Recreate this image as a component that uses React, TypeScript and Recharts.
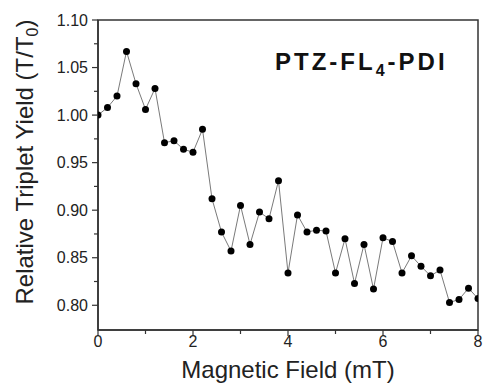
import { LineChart, Line, XAxis, YAxis, ReferenceArea } from "recharts";

// magnetic field (mT), one point every 0.2 mT
const fieldValues = [
  0, 0.2, 0.4, 0.6, 0.8, 1.0, 1.2, 1.4, 1.6, 1.8, 2.0, 2.2, 2.4, 2.6, 2.8, 3.0, 3.2, 3.4, 3.6, 3.8, 4.0,
  4.2, 4.4, 4.6, 4.8, 5.0, 5.2, 5.4, 5.6, 5.8, 6.0, 6.2, 6.4, 6.6, 6.8, 7.0, 7.2, 7.4, 7.6, 7.8, 8.0,
];
// relative triplet yield T/T0
const yieldValues = [
  1.0, 1.008, 1.02, 1.067, 1.033, 1.006, 1.028, 0.971, 0.973, 0.964, 0.961, 0.985, 0.912, 0.877, 0.857,
  0.905, 0.864, 0.898, 0.891, 0.931, 0.834, 0.895, 0.877, 0.879, 0.878, 0.834, 0.87, 0.823, 0.864, 0.817,
  0.871, 0.867, 0.834, 0.852, 0.841, 0.831, 0.837, 0.803, 0.806, 0.818, 0.807,
];
const xTicks = [0, 1, 2, 3, 4, 5, 6, 7, 8];
const xLabelled = [0, 2, 4, 6, 8];
const yTicks = [0.8, 0.825, 0.85, 0.875, 0.9, 0.925, 0.95, 0.975, 1.0, 1.025, 1.05, 1.075, 1.1];
const yLabelled = [0.8, 0.85, 0.9, 0.95, 1.0, 1.05, 1.1];

const FONT = '"Liberation Sans", Arial, sans-serif';
const AXIS = "#333";

const data = fieldValues.map((f, i) => ({ field: f, value: yieldValues[i] }));

function XTick({ x, y, payload }: any) {
  const major = xLabelled.includes(payload.value);
  return (
    <g>
      <line x1={x} x2={x} y1={y} y2={y + (major ? 6 : 4)} stroke={AXIS} strokeWidth={1.2} />
      {major && (
        <text x={x} y={y + 17} textAnchor="middle" fontSize={16} fontFamily={FONT} fill="#222">
          {payload.value}
        </text>
      )}
    </g>
  );
}

function YTick({ x, y, payload }: any) {
  const major = yLabelled.some((v) => Math.abs(v - payload.value) < 1e-6);
  return (
    <g>
      <line x1={x - (major ? 6 : 4)} x2={x} y1={y} y2={y} stroke={AXIS} strokeWidth={1.2} />
      {major && (
        <text x={x - 10} y={y} dy="0.36em" textAnchor="end" fontSize={16} fontFamily={FONT} fill="#222">
          {payload.value.toFixed(2)}
        </text>
      )}
    </g>
  );
}

export default function App() {
  return (
    <div style={{ position: "absolute", left: 0, top: 0, width: 483, height: 383, background: "#fff" }}>
      <LineChart width={483} height={383} data={data} margin={{ top: 20, right: 5, bottom: 0, left: 0 }}>
        <XAxis
          type="number"
          dataKey="field"
          domain={[0, 8]}
          ticks={xTicks}
          height={53}
          tickSize={0}
          tickMargin={0}
          tickLine={false}
          tick={<XTick />}
          axisLine={{ stroke: AXIS, strokeWidth: 1.5 }}
          allowDataOverflow
        />
        <YAxis
          type="number"
          domain={[0.774, 1.1]}
          ticks={yTicks}
          width={98}
          tickSize={0}
          tickMargin={0}
          tickLine={false}
          tick={<YTick />}
          axisLine={{ stroke: AXIS, strokeWidth: 1.5 }}
          allowDataOverflow
        />
        <ReferenceArea x1={0} x2={8} y1={0.774} y2={1.1} fill="none" stroke={AXIS} strokeWidth={1.5} />
        <Line
          dataKey="value"
          stroke="#7a7a7a"
          strokeWidth={1}
          dot={{ r: 3.5, fill: "#000", stroke: "#000", strokeWidth: 0 }}
          isAnimationActive={false}
        />
      </LineChart>
      <svg width={483} height={383} style={{ position: "absolute", left: 0, top: 0, pointerEvents: "none" }}>
        <text x={275} y={70} fontSize={24} fontWeight="bold" fontFamily={FONT} fill="#111" letterSpacing={3}>
          PTZ-FL<tspan fontSize={16} dy={6}>4</tspan>
          <tspan dy={-6}>-PDI</tspan>
        </text>
        <text
          transform="translate(33,162) rotate(-90)"
          textAnchor="middle"
          fontSize={24}
          fontFamily={FONT}
          fill="#222"
        >
          Relative Triplet Yield (T/T<tspan fontSize={16} dy={5}>0</tspan>
          <tspan dy={-5}>)</tspan>
        </text>
        <text x={288} y={378} textAnchor="middle" fontSize={24} fontFamily={FONT} fill="#222">
          Magnetic Field (mT)
        </text>
      </svg>
    </div>
  );
}
